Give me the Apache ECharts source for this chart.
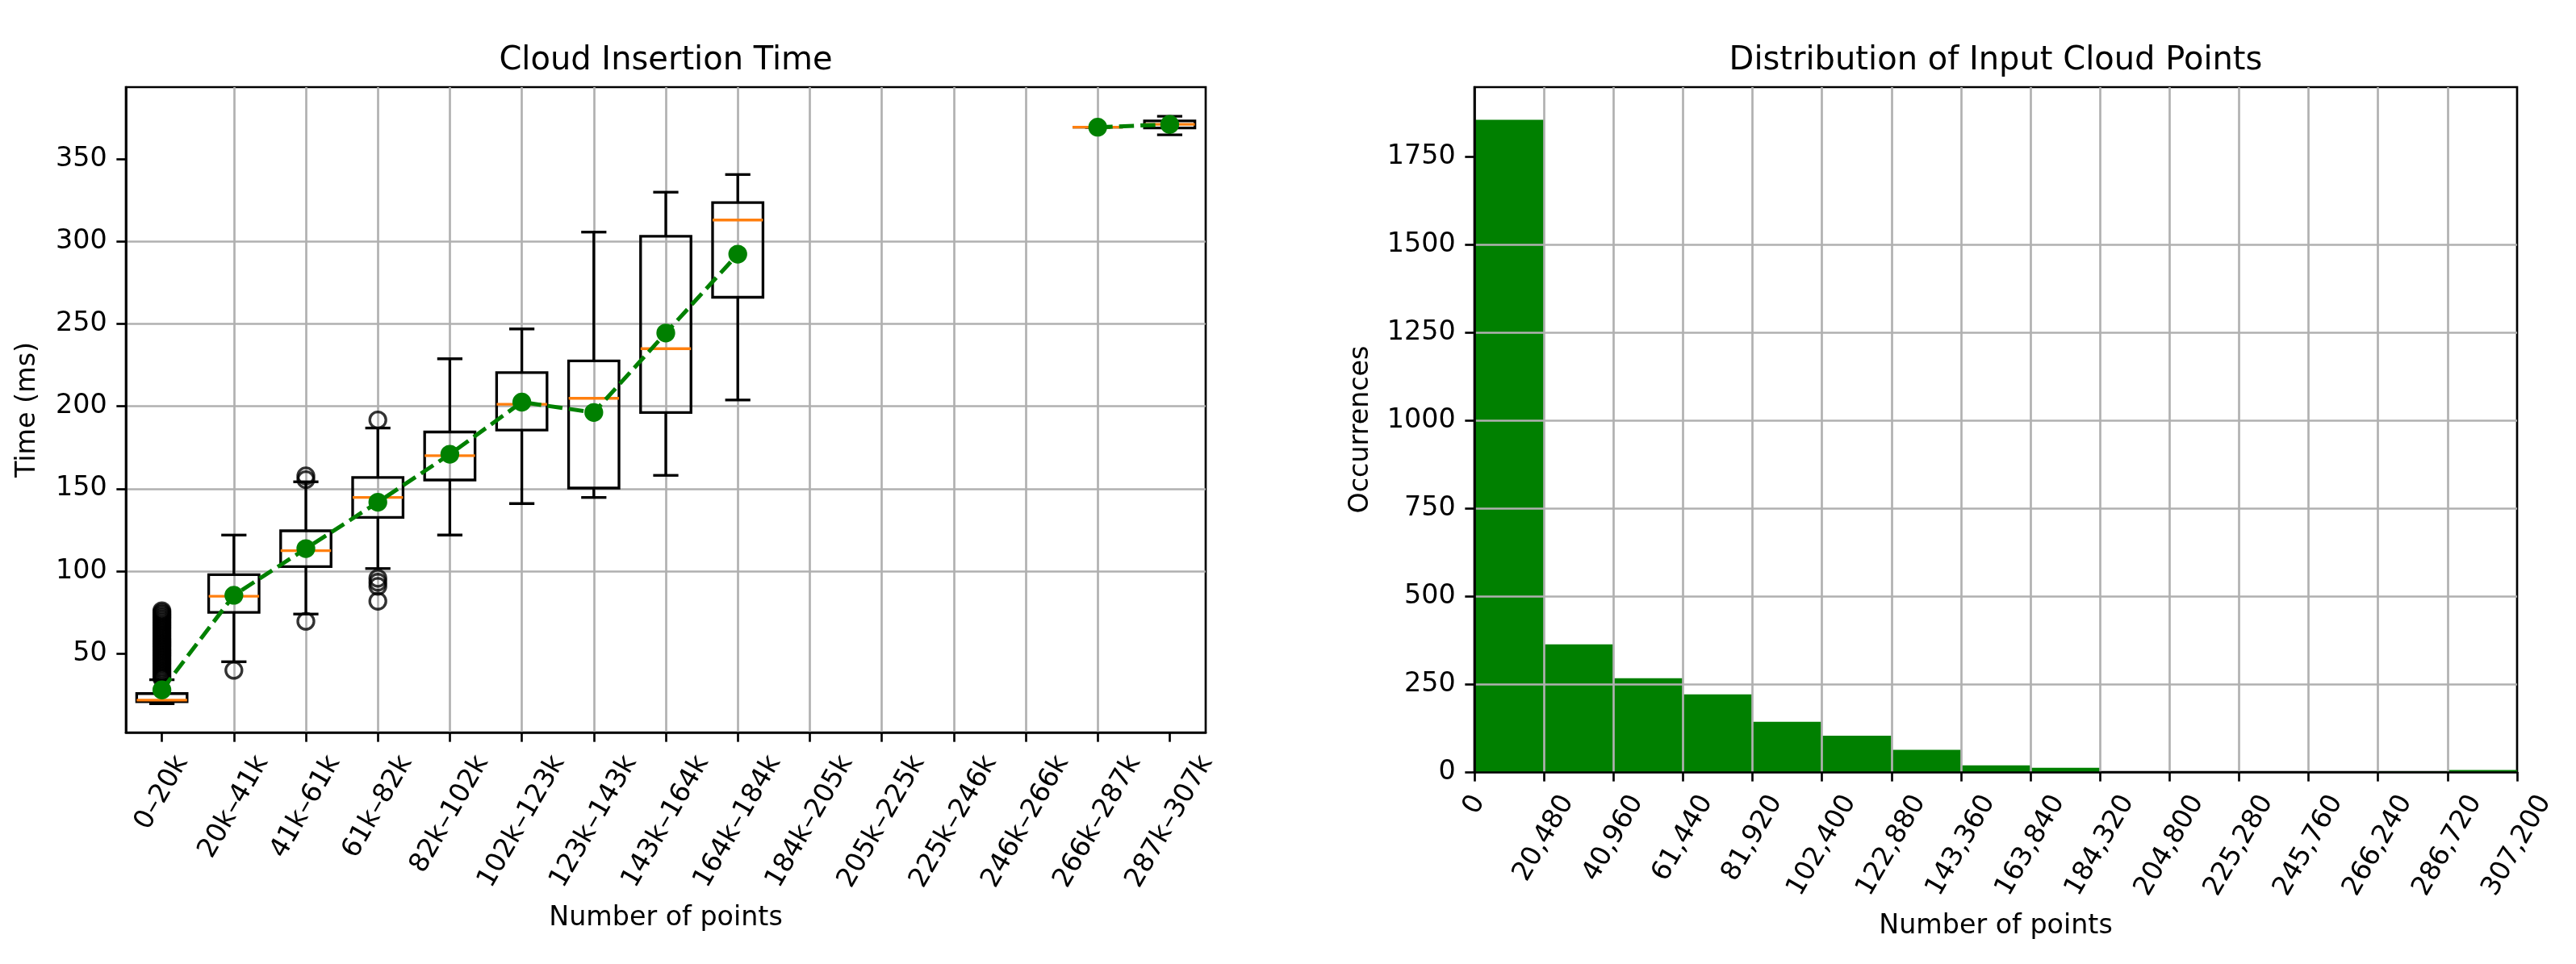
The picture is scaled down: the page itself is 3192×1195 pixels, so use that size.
<!DOCTYPE html>
<html>
<head>
<meta charset="utf-8">
<script src="https://cdn.jsdelivr.net/npm/echarts@6/dist/echarts.min.js"></script>
<style>
html,body{margin:0;padding:0;background:#fff;}
#c{width:3192px;height:1195px;}
</style>
</head>
<body>
<div id="c"></div>
<script>
// ---------------- DATA ----------------
const boxCategories = ["0–20k","20k–41k","41k–61k","61k–82k","82k–102k","102k–123k","123k–143k","143k–164k","164k–184k","184k–205k","205k–225k","225k–246k","246k–266k","266k–287k","287k–307k"];
const boxPositions = [1,2,3,4,5,6,7,8,9,10,11,12,13,14,15];
const whiskerLow  = [19.7, 45.1, 74.0, 101.6, 121.9, 141.0, 144.7, 158.1, 203.8, null, null, null, null, 369.2, 364.6];
const quartile1   = [20.9, 75.0, 102.8, 132.6, 155.3, 185.6, 150.4, 196.2, 266.1, null, null, null, null, 369.2, 368.7];
const medians     = [21.8, 84.8, 112.4, 144.7, 170.0, 201.2, 204.8, 234.9, 312.9, null, null, null, null, 369.2, 370.9];
const quartile3   = [25.8, 97.9, 124.5, 156.8, 184.4, 220.4, 227.5, 303.1, 323.5, null, null, null, null, 369.2, 373.0];
const whiskerHigh = [34.2, 121.9, 154.2, 186.8, 228.8, 246.9, 305.6, 329.8, 340.5, null, null, null, null, 369.2, 375.8];
const means       = [28.0, 85.4, 113.7, 141.8, 170.9, 202.5, 196.2, 244.4, 292.2, null, null, null, null, 369.2, 370.9];
const fliers = [
  [35,36,37,38,39,40,41,42,43,44,45,46,47,48,49,50,51,52,53,54,55,56,57,58,59,60,61,62,63,64,65,66,67,68,69,70,71,72,73,74,75,76],
  [39.9],
  [69.6, 155.5, 157.8],
  [81.8, 90.8, 93.3, 95.7, 191.7],
  [], [], [], [], [], [], [], [], [], [], []
];
const leftYTicks = [50, 100, 150, 200, 250, 300, 350];

const histEdges = [0, 20480, 40960, 61440, 81920, 102400, 122880, 143360, 163840, 184320, 204800, 225280, 245760, 266240, 286720, 307200];
const histEdgeLabels = ["0","20,480","40,960","61,440","81,920","102,400","122,880","143,360","163,840","184,320","204,800","225,280","245,760","266,240","286,720","307,200"];
const histCounts = [1855, 363, 267, 221, 143, 103, 63, 19, 12, 0, 0, 0, 0, 1, 6];
const rightYTicks = [0, 250, 500, 750, 1000, 1250, 1500, 1750];

// ---------------- STYLE ----------------
const PT = 240 / 72;
const FONT_FAMILY = '"DejaVu Sans", "Liberation Sans", sans-serif';
const FS = 10 * PT;          // tick / axis label font
const FS_TITLE = 12 * PT;    // title font
const SPINE = 0.8 * PT;
const GRIDW = 0.8 * PT;
const LW_BOX = 1.0 * PT;
const TICK_LEN = 3.5 * PT;
const TICK_PAD = 3.5 * PT;
const BOX_WIDTH = 0.7;
const GREEN = '#008000';
const GRID_COLOR = '#b0b0b0';

const chart = echarts.init(document.getElementById('c'), null, {renderer: 'canvas'});

function axisCommon(ticks, showLabels, z) {
  return {
    z: z,
    axisLine: {show: true, onZero: false, lineStyle: {color: '#000', width: SPINE}},
    axisTick: {show: true, length: TICK_LEN, inside: false, lineStyle: {color: '#000', width: SPINE}, customValues: ticks},
    axisLabel: {show: showLabels, customValues: ticks, margin: TICK_LEN + TICK_PAD, fontSize: FS, fontFamily: FONT_FAMILY, color: '#000', formatter: v => String(v)},
    splitLine: {show: true, showMinLine: false, showMaxLine: false, lineStyle: {color: GRID_COLOR, width: GRIDW}}
  };
}

const boxData = [];
boxPositions.forEach((p, i) => {
  if (medians[i] !== null) boxData.push([p, whiskerLow[i], quartile1[i], medians[i], quartile3[i], whiskerHigh[i]]);
});
const flierData = [];
fliers.forEach((arr, i) => arr.forEach(v => flierData.push([boxPositions[i], v])));
const meanData = boxPositions.map((p, i) => [p, means[i] === null ? '-' : means[i]]);
const histData = histCounts.map((c, i) => [histEdges[i], histEdges[i + 1], c]);

function renderBox(params, api) {
  const x = api.value(0);
  const lo = api.coord([x, api.value(1)]);
  const q1 = api.coord([x, api.value(2)]);
  const md = api.coord([x, api.value(3)]);
  const q3 = api.coord([x, api.value(4)]);
  const hi = api.coord([x, api.value(5)]);
  const hw = api.size([BOX_WIDTH / 2, 0])[0];
  const cw = api.size([BOX_WIDTH / 4, 0])[0];
  const cx = lo[0];
  const ls = {stroke: '#000', lineWidth: LW_BOX, fill: 'none'};
  return {type: 'group', children: [
    {type: 'line', shape: {x1: cx, y1: q1[1], x2: cx, y2: lo[1]}, style: ls},
    {type: 'line', shape: {x1: cx, y1: q3[1], x2: cx, y2: hi[1]}, style: ls},
    {type: 'line', shape: {x1: cx - cw, y1: lo[1], x2: cx + cw, y2: lo[1]}, style: ls},
    {type: 'line', shape: {x1: cx - cw, y1: hi[1], x2: cx + cw, y2: hi[1]}, style: ls},
    {type: 'rect', shape: {x: cx - hw, y: q3[1], width: 2 * hw, height: q1[1] - q3[1]}, style: ls},
    {type: 'line', shape: {x1: cx - hw, y1: md[1], x2: cx + hw, y2: md[1]}, style: {stroke: '#ff7f0e', lineWidth: LW_BOX}}
  ]};
}

function renderHist(params, api) {
  const p0 = api.coord([api.value(0), 0]);
  const p1 = api.coord([api.value(1), api.value(2)]);
  return {type: 'rect', shape: {x: p0[0], y: p1[1], width: p1[0] - p0[0], height: p0[1] - p1[1]}, style: {fill: GREEN, stroke: null}};
}

const option = {
  animation: false,
  backgroundColor: '#fff',
  textStyle: {fontFamily: FONT_FAMILY},
  grid: [
    {left: 156, top: 108, width: 1338, height: 800, show: true, borderColor: '#000', borderWidth: SPINE, backgroundColor: 'transparent', outerBoundsMode: 'none', containLabel: false},
    {left: 1827, top: 108, width: 1292, height: 849, show: true, borderColor: '#000', borderWidth: SPINE, backgroundColor: 'transparent', outerBoundsMode: 'none', containLabel: false}
  ],
  xAxis: [
    Object.assign({type: 'value', gridIndex: 0, min: 0.5, max: 15.5}, axisCommon(boxPositions, false, 0)),
    Object.assign({type: 'value', gridIndex: 1, min: 0, max: 307200}, axisCommon(histEdges, false, 11))
  ],
  yAxis: [
    Object.assign({type: 'value', gridIndex: 0, min: 2.2, max: 393.5}, axisCommon(leftYTicks, true, 0)),
    Object.assign({type: 'value', gridIndex: 1, min: 0, max: 1948}, axisCommon(rightYTicks, true, 10))
  ],
  series: [
    {type: 'custom', name: 'box', xAxisIndex: 0, yAxisIndex: 0, data: boxData, renderItem: renderBox, encode: {x: 0, y: [1, 2, 3, 4, 5]}, z: 2, silent: true},
    {type: 'scatter', name: 'fliers', xAxisIndex: 0, yAxisIndex: 0, data: flierData, symbol: 'circle', symbolSize: 6 * PT,
      itemStyle: {color: 'rgba(0,0,0,0)', borderColor: '#000', borderWidth: LW_BOX}, z: 3, silent: true},
    {type: 'line', name: 'mean', xAxisIndex: 0, yAxisIndex: 0, data: meanData, connectNulls: false, symbol: 'circle', symbolSize: 6 * PT, showSymbol: true,
      itemStyle: {color: GREEN, borderColor: GREEN, borderWidth: LW_BOX},
      lineStyle: {color: GREEN, width: 1.5 * PT, type: [3.7 * 1.5 * PT, 1.6 * 1.5 * PT]}, z: 4, silent: true},
    {type: 'custom', name: 'hist', xAxisIndex: 1, yAxisIndex: 1, data: histData, renderItem: renderHist, encode: {x: [0, 1], y: 2}, z: 2, silent: true}
  ]
};
chart.setOption(option);

// ------------- matplotlib-style rotated tick labels, titles, axis names -------------
const mctx = document.createElement('canvas').getContext('2d');
mctx.font = FS + 'px "DejaVu Sans"';
const ROT = 60 * Math.PI / 180;
const H = FS;
const els = [];
function rotatedLabel(text, px, axisY) {
  const L = mctx.measureText(text).width;
  const yTop = axisY + TICK_LEN + TICK_PAD;
  els.push({type: 'text', x: px + L * Math.cos(ROT) / 2, y: yTop + H * Math.cos(ROT) / 2, rotation: ROT,
    style: {text: text, font: FS + 'px ' + FONT_FAMILY, fill: '#000', align: 'right', verticalAlign: 'middle'}});
}
boxCategories.forEach((lab, i) => {
  const p = chart.convertToPixel({gridIndex: 0}, [boxPositions[i], 2.2]);
  rotatedLabel(lab, p[0], p[1]);
});
histEdgeLabels.forEach((lab, i) => {
  const p = chart.convertToPixel({gridIndex: 1}, [histEdges[i], 0]);
  rotatedLabel(lab, p[0], p[1]);
});
function plainText(text, x, y, size, rot) {
  els.push({type: 'text', x: x, y: y, rotation: rot || 0,
    style: {text: text, font: size + 'px ' + FONT_FAMILY, fill: '#000', align: 'center', verticalAlign: 'middle'}});
}
const g0a = chart.convertToPixel({gridIndex: 0}, [0.5, 393.5]);
const g0b = chart.convertToPixel({gridIndex: 0}, [15.5, 2.2]);
const g1a = chart.convertToPixel({gridIndex: 1}, [0, 1948]);
const g1b = chart.convertToPixel({gridIndex: 1}, [307200, 0]);
const titleBase = g0a[1] - 6 * PT;
plainText('Cloud Insertion Time', (g0a[0] + g0b[0]) / 2, titleBase - 0.3 * FS_TITLE, FS_TITLE);
plainText('Distribution of Input Cloud Points', (g1a[0] + g1b[0]) / 2, titleBase - 0.3 * FS_TITLE, FS_TITLE);
plainText('Number of points', (g0a[0] + g0b[0]) / 2, 1138, FS);
plainText('Number of points', (g1a[0] + g1b[0]) / 2, 1148, FS);
plainText('Time (ms)', 34, (g0a[1] + g0b[1]) / 2, FS, Math.PI / 2);
plainText('Occurrences', 1686, (g1a[1] + g1b[1]) / 2, FS, Math.PI / 2);
chart.setOption({graphic: {elements: els}});
</script>
</body>
</html>
